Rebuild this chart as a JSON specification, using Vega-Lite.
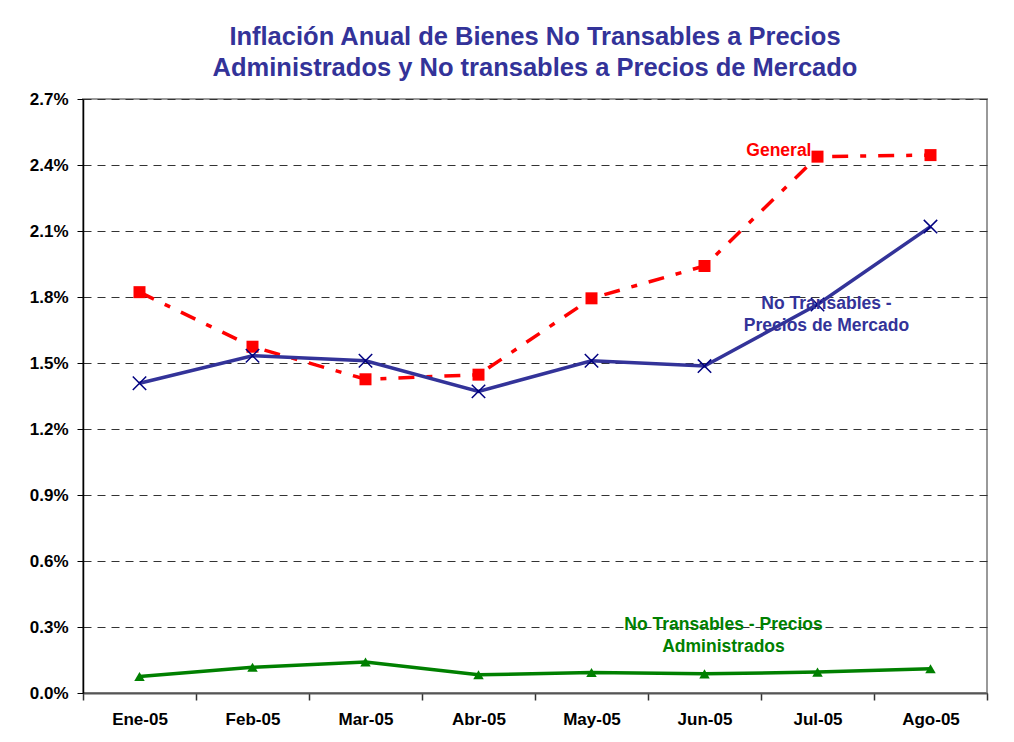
{
  "$schema": "https://vega.github.io/schema/vega-lite/v6.json",
  "autosize": {"type": "none"},
  "width": 904,
  "height": 594,
  "padding": {"left": 83, "top": 99, "right": 27, "bottom": 49},
  "background": "white",
  "config": {
    "font": "Liberation Sans",
    "view": {"stroke": "#999999", "strokeWidth": 2}
  },
  "title": {
    "text": ["Inflación Anual de Bienes No Transables a Precios", "Administrados y No transables a Precios de Mercado"],
    "font": "Liberation Sans",
    "fontSize": 25.5,
    "fontWeight": "bold",
    "color": "#333399",
    "lineHeight": 31,
    "offset": 9,
    "anchor": "middle"
  },
  "datasets": {
    "series": [
      {"mes": "Ene-05", "serie": "General", "valor": 0.01822},
      {"mes": "Feb-05", "serie": "General", "valor": 0.01574},
      {"mes": "Mar-05", "serie": "General", "valor": 0.01426},
      {"mes": "Abr-05", "serie": "General", "valor": 0.01447},
      {"mes": "May-05", "serie": "General", "valor": 0.01794},
      {"mes": "Jun-05", "serie": "General", "valor": 0.01941},
      {"mes": "Jul-05", "serie": "General", "valor": 0.02438},
      {"mes": "Ago-05", "serie": "General", "valor": 0.02445},
      {"mes": "Ene-05", "serie": "Mercado", "valor": 0.01408},
      {"mes": "Feb-05", "serie": "Mercado", "valor": 0.01533},
      {"mes": "Mar-05", "serie": "Mercado", "valor": 0.01510},
      {"mes": "Abr-05", "serie": "Mercado", "valor": 0.01371},
      {"mes": "May-05", "serie": "Mercado", "valor": 0.01510},
      {"mes": "Jun-05", "serie": "Mercado", "valor": 0.01486},
      {"mes": "Jul-05", "serie": "Mercado", "valor": 0.01766},
      {"mes": "Ago-05", "serie": "Mercado", "valor": 0.02120},
      {"mes": "Ene-05", "serie": "Administrados", "valor": 0.00075},
      {"mes": "Feb-05", "serie": "Administrados", "valor": 0.00117},
      {"mes": "Mar-05", "serie": "Administrados", "valor": 0.00141},
      {"mes": "Abr-05", "serie": "Administrados", "valor": 0.00083},
      {"mes": "May-05", "serie": "Administrados", "valor": 0.00093},
      {"mes": "Jun-05", "serie": "Administrados", "valor": 0.00087},
      {"mes": "Jul-05", "serie": "Administrados", "valor": 0.00095},
      {"mes": "Ago-05", "serie": "Administrados", "valor": 0.00110}
    ],
    "etiquetas": [
      {"mes": "Jul-05", "serie": "General", "valor": 0.02464, "texto": "General"},
      {"mes": "Jul-05", "serie": "Mercado", "valor": 0.01767, "texto": "No Transables -\nPrecios de Mercado"},
      {"mes": "Jun-05", "serie": "Administrados", "valor": 0.0031, "texto": "No Transables - Precios\nAdministrados"}
    ]
  },
  "encoding": {
    "x": {
      "field": "mes",
      "type": "nominal",
      "sort": ["Ene-05", "Feb-05", "Mar-05", "Abr-05", "May-05", "Jun-05", "Jul-05", "Ago-05"],
      "scale": {"paddingInner": 0, "paddingOuter": 0},
      "axis": {
        "title": null,
        "labelAngle": 0,
        "labelFont": "Liberation Sans",
        "labelFontSize": 17,
        "labelFontWeight": "bold",
        "labelColor": "#000000",
        "labelPadding": 11,
        "domainColor": "#555555",
        "domainWidth": 2,
        "tickColor": "#333333",
        "tickWidth": 1.5,
        "tickSize": 7,
        "tickBand": "extent",
        "grid": false
      }
    },
    "y": {
      "field": "valor",
      "type": "quantitative",
      "scale": {"domain": [0, 0.027], "nice": false, "zero": true},
      "axis": {
        "title": null,
        "values": [0, 0.003, 0.006, 0.009, 0.012, 0.015, 0.018, 0.021, 0.024, 0.027],
        "format": ".1%",
        "labelFont": "Liberation Sans",
        "labelFontSize": 17,
        "labelFontWeight": "bold",
        "labelColor": "#000000",
        "labelPadding": 9,
        "domainColor": "#000000",
        "domainWidth": 1.5,
        "tickColor": "#000000",
        "tickSize": 6,
        "tickWidth": 1,
        "grid": true,
        "gridColor": "#333333",
        "gridDash": [8, 6],
        "gridWidth": 1
      }
    }
  },
  "layer": [
    {
      "data": {"name": "series"},
      "transform": [{"filter": "datum.serie === 'Administrados'"}],
      "mark": {"type": "line", "color": "#008000", "strokeWidth": 3.5},
      "encoding": {}
    },
    {
      "data": {"name": "series"},
      "transform": [{"filter": "datum.serie === 'Administrados'"}],
      "mark": {"type": "point", "shape": "triangle-up", "filled": true, "color": "#008000", "size": 110, "opacity": 1}
    },
    {
      "data": {"name": "series"},
      "transform": [{"filter": "datum.serie === 'General'"}],
      "mark": {"type": "line", "color": "#FF0000", "strokeWidth": 3.5, "strokeDash": [16, 12, 6, 12]},
      "encoding": {}
    },
    {
      "data": {"name": "series"},
      "transform": [{"filter": "datum.serie === 'General'"}],
      "mark": {"type": "point", "shape": "square", "filled": true, "color": "#FF0000", "size": 144, "opacity": 1}
    },
    {
      "data": {"name": "series"},
      "transform": [{"filter": "datum.serie === 'Mercado'"}],
      "mark": {"type": "line", "color": "#333399", "strokeWidth": 3.5},
      "encoding": {}
    },
    {
      "data": {"name": "series"},
      "transform": [{"filter": "datum.serie === 'Mercado'"}],
      "mark": {"type": "point", "shape": "M-1,-1L1,1M-1,1L1,-1", "filled": false, "stroke": "#000080", "strokeWidth": 1.5, "size": 180, "opacity": 1}
    },
    {
      "data": {"name": "etiquetas"},
      "transform": [{"filter": "datum.serie === 'General'"}],
      "mark": {"type": "text", "color": "#FF0000", "font": "Liberation Sans", "fontSize": 17.5, "fontWeight": "bold", "align": "right", "baseline": "middle", "dx": -6},
      "encoding": {"text": {"field": "texto"}}
    },
    {
      "data": {"name": "etiquetas"},
      "transform": [{"filter": "datum.serie === 'Mercado'"}],
      "mark": {"type": "text", "color": "#333399", "font": "Liberation Sans", "fontSize": 17.5, "fontWeight": "bold", "align": "center", "baseline": "middle", "dx": 9, "lineBreak": "\n", "lineHeight": 22},
      "encoding": {"text": {"field": "texto"}}
    },
    {
      "data": {"name": "etiquetas"},
      "transform": [{"filter": "datum.serie === 'Administrados'"}],
      "mark": {"type": "text", "color": "#008000", "font": "Liberation Sans", "fontSize": 17.5, "fontWeight": "bold", "align": "center", "baseline": "middle", "dx": 19, "lineBreak": "\n", "lineHeight": 22},
      "encoding": {"text": {"field": "texto"}}
    }
  ]
}
